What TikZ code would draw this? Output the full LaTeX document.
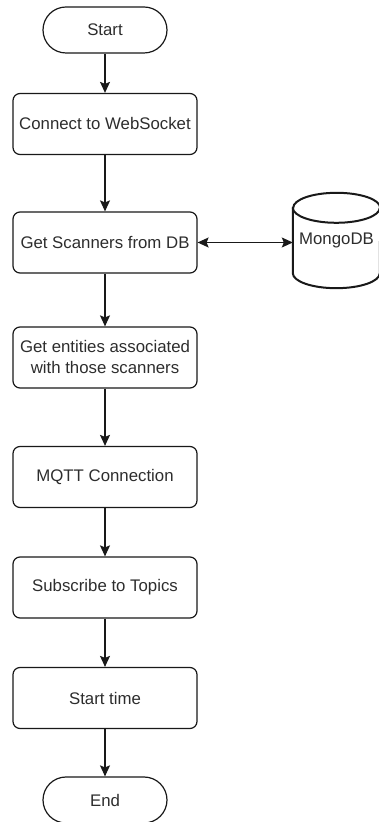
\documentclass[tikz,border=0pt]{standalone}
\usepackage{fontspec}
\setmainfont{Liberation Sans}
\usetikzlibrary{arrows.meta}
\definecolor{ink}{RGB}{25,25,25}
\definecolor{txt}{RGB}{45,45,45}
\begin{document}
\begin{tikzpicture}[x=1pt,y=1pt,
  every node/.style={font=\fontsize{16.8}{21}\selectfont, text=txt},
  proc/.style={draw=ink, line width=1.2pt, rounded corners=7pt, minimum width=184pt, minimum height=61pt, align=center, inner sep=0pt},
  term/.style={draw=ink, line width=1.2pt, rounded corners=23pt, minimum width=124pt, minimum height=46pt, inner sep=0pt},
  flow/.style={draw=ink, line width=1.2pt, -{Stealth[length=11pt,width=10pt,inset=2pt]}},
  both/.style={draw=ink, line width=1.2pt, {Stealth[length=11pt,width=10pt,inset=2pt]}-{Stealth[length=11pt,width=10pt,inset=2pt]}}
]
\useasboundingbox (0,0) rectangle (379,822);
\clip (0,0) rectangle (379,822);

\node[term] (start) at (105,792) {Start};
\node[proc] (ws) at (105,698) {Connect to WebSocket};
\node[proc] (scan) at (105,579.5) {Get Scanners from DB};
\node[proc] (ent) at (105,464.5) {Get entities associated\\with those scanners};
\node[proc] (mqtt) at (105,345) {MQTT Connection};
\node[proc] (sub) at (105,234.5) {Subscribe to Topics};
\node[proc] (time) at (105,124) {Start time};
\node[term] (end) at (105,22) {End};

% MongoDB cylinder
\node[minimum width=87pt, minimum height=95pt, inner sep=0pt] (mongo) at (336.5,581.5) {MongoDB};
\draw[ink, line width=2pt]
  ([yshift=-15pt]mongo.north west) -- ([yshift=15pt]mongo.south west)
  arc[start angle=180, end angle=360, x radius=43.5pt, y radius=15pt]
  -- ([yshift=-15pt]mongo.north east)
  arc[start angle=0, end angle=180, x radius=43.5pt, y radius=15pt] -- cycle;
\draw[ink, line width=2pt] ([yshift=-15pt]mongo.north west)
  arc[start angle=180, end angle=360, x radius=43.5pt, y radius=15pt];

\draw[flow] (start) -- (ws);
\draw[flow] (ws) -- (scan);
\draw[flow] (scan) -- (ent);
\draw[flow] (ent) -- (mqtt);
\draw[flow] (mqtt) -- (sub);
\draw[flow] (sub) -- (time);
\draw[flow] (time) -- (end);
\draw[both] (scan.east) -- (mongo.west |- scan.east);
\end{tikzpicture}
\end{document}
